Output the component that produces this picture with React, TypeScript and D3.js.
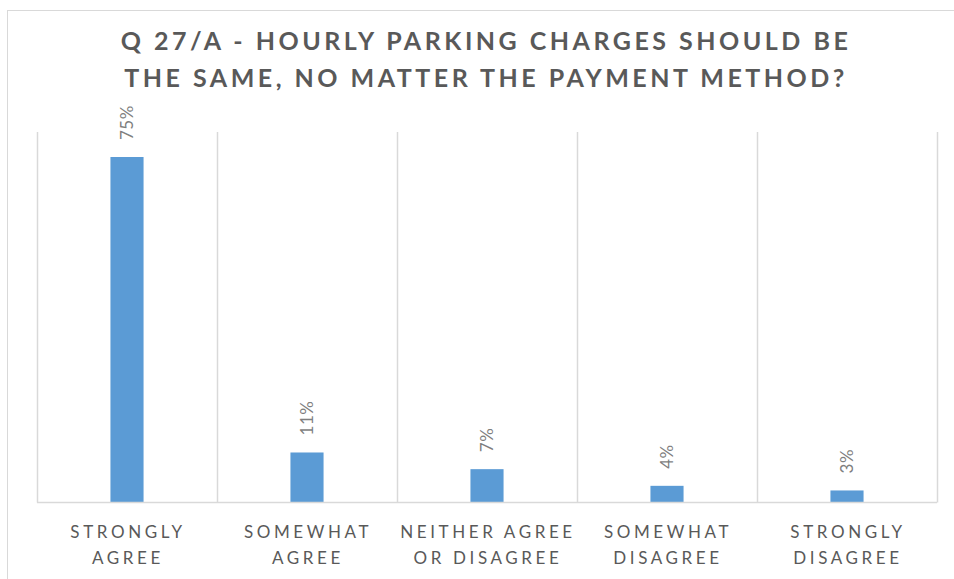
import * as d3 from "d3";

const categories = [
  ["STRONGLY", "AGREE"],
  ["SOMEWHAT", "AGREE"],
  ["NEITHER AGREE", "OR DISAGREE"],
  ["SOMEWHAT", "DISAGREE"],
  ["STRONGLY", "DISAGREE"],
];
const values = [0.746, 0.108, 0.072, 0.036, 0.026];
const titleLines = [
  "Q 27/A - HOURLY PARKING CHARGES SHOULD BE",
  "THE SAME, NO MATTER THE PAYMENT METHOD?",
];

const width = 954;
const height = 579;
const plot = { left: 37, right: 937, top: 132, bottom: 502.5 };
const font = "Lato, 'Open Sans', sans-serif";

export default function App() {
  const keys = categories.map((c) => c.join(" "));
  const x = d3
    .scaleBand()
    .domain(keys)
    .range([plot.left, plot.right])
    .paddingInner(0.816)
    .paddingOuter(0.408);
  const step = x.step();
  const y = d3.scaleLinear().domain([0, 0.8]).range([plot.bottom, plot.top]);
  const fmt = d3.format(".0%");

  return (
    <svg
      width={width}
      height={height}
      style={{ position: "absolute", left: 0, top: 0, background: "#fff" }}
    >
      {/* chart border */}
      <rect x={7.5} y={10.5} width={width + 20} height={height + 20} fill="none" stroke="#d9d9d9" />

      {titleLines.map((t, i) => (
        <text
          key={i}
          x={486}
          y={50 + i * 36.5}
          textAnchor="middle"
          fontFamily={font}
          fontWeight="bold"
          fontSize={25}
          letterSpacing={3.5}
          fill="#595959"
        >
          {t}
        </text>
      ))}

      {/* vertical gridlines between categories */}
      {d3.range(keys.length + 1).map((i) => {
        const gx = Math.round(plot.left + i * step) + 0.5;
        return (
          <line key={i} x1={gx} x2={gx} y1={plot.top} y2={plot.bottom} stroke="#d9d9d9" strokeWidth={1.5} />
        );
      })}

      {values.map((v, i) => (
        <rect
          key={keys[i]}
          x={x(keys[i])}
          y={y(v)}
          width={x.bandwidth()}
          height={plot.bottom - y(v)}
          fill="#5b9bd5"
        />
      ))}

      <line x1={plot.left} x2={plot.right} y1={plot.bottom} y2={plot.bottom} stroke="#d9d9d9" strokeWidth={1.5} />

      {values.map((v, i) => {
        const cx = x(keys[i])! + x.bandwidth() / 2;
        const ly = y(v) - 17;
        return (
          <text
            key={keys[i]}
            transform={`translate(${cx + 6},${ly}) rotate(-90)`}
            fontFamily={font}
            fontSize={17}
            fill="#7f7f7f"
            letterSpacing={0.5}
          >
            {fmt(v)}
          </text>
        );
      })}

      {categories.map((lines, i) => {
        const cx = x(keys[i])! + x.bandwidth() / 2 + 1;
        return (
          <text
            key={keys[i]}
            textAnchor="middle"
            fontFamily={font}
            fontSize={17}
            fill="#595959"
            letterSpacing={3.6}
          >
            {lines.map((l, j) => (
              <tspan key={j} x={cx} y={538 + j * 25.5}>
                {l}
              </tspan>
            ))}
          </text>
        );
      })}
    </svg>
  );
}
